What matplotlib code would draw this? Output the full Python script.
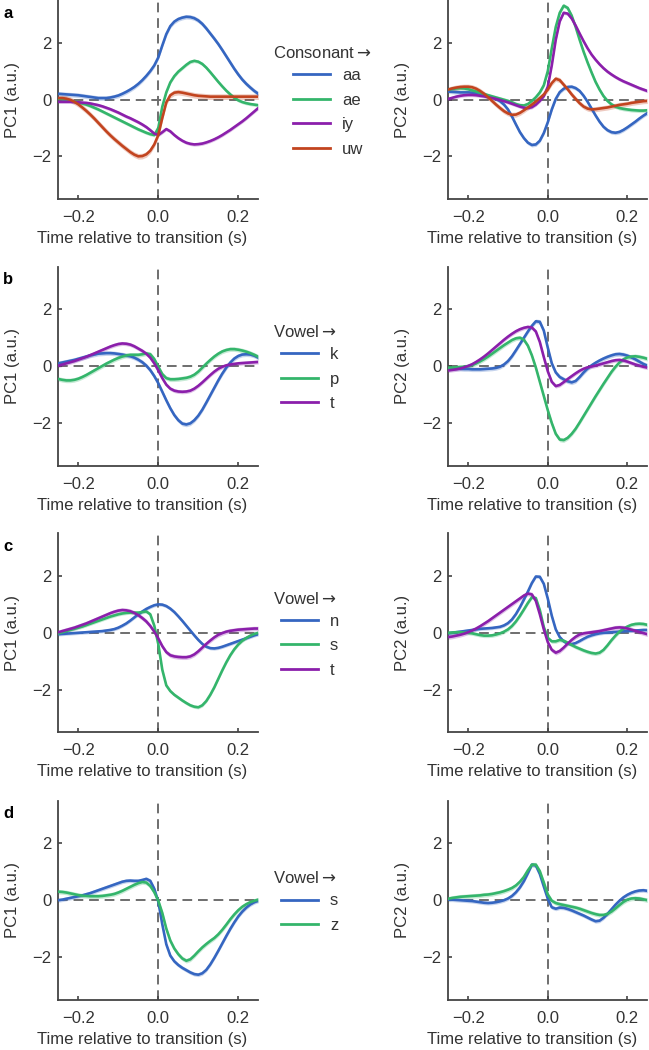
import numpy as np
import matplotlib
matplotlib.use("Agg")
import matplotlib.pyplot as plt
from matplotlib.lines import Line2D

plt.rcParams['font.family'] = ['Liberation Sans', 'DejaVu Sans']
plt.rcParams['mathtext.fontset'] = 'dejavusans'

# time grid (s)
time_s = np.round(np.linspace(-0.25, 0.25, 51), 2)

# ---------------- panel a (consonant -> vowel) ----------------
a_labels = ['aa', 'ae', 'iy', 'uw']
a_pc1_aa = [0.20,0.19,0.18,0.17,0.16,0.15,0.13,0.11,0.09,0.07,
            0.05,0.05,0.05,0.07,0.10,0.14,0.20,0.27,0.35,0.44,
            0.55,0.68,0.83,1.00,1.20,
            1.48,
            1.90,2.30,2.58,2.74,2.83,2.88,2.91,2.90,2.86,2.78,
            2.66,2.50,2.32,2.14,1.95,1.74,1.52,1.30,1.08,0.88,
            0.70,0.55,0.42,0.30,0.20]
a_pc1_ae = [0.02,0.00,-0.02,-0.04,-0.07,-0.10,-0.14,-0.18,-0.23,-0.29,
            -0.35,-0.42,-0.49,-0.56,-0.63,-0.70,-0.77,-0.84,-0.91,-0.98,
            -1.05,-1.11,-1.17,-1.22,-1.25,
            -1.00,
            -0.25,0.25,0.60,0.82,0.98,1.10,1.22,1.32,1.36,1.33,
            1.25,1.12,0.96,0.79,0.62,0.46,0.31,0.18,0.06,-0.03,
            -0.09,-0.13,-0.16,-0.18,-0.20]
a_pc1_iy = [-0.08,-0.08,-0.08,-0.08,-0.09,-0.10,-0.11,-0.12,-0.14,-0.17,
            -0.20,-0.24,-0.29,-0.34,-0.40,-0.46,-0.53,-0.60,-0.66,-0.73,
            -0.80,-0.88,-0.97,-1.08,-1.20,
            -1.25,
            -1.15,-1.04,-1.12,-1.25,-1.36,-1.45,-1.52,-1.56,-1.58,-1.57,
            -1.55,-1.51,-1.46,-1.40,-1.33,-1.25,-1.16,-1.07,-0.97,-0.87,
            -0.77,-0.66,-0.54,-0.42,-0.30]
a_pc1_uw = [0.05,0.05,0.03,-0.01,-0.08,-0.17,-0.28,-0.40,-0.53,-0.67,
            -0.82,-0.97,-1.12,-1.26,-1.39,-1.51,-1.63,-1.74,-1.85,-1.94,
            -2.00,-1.99,-1.93,-1.80,-1.58,
            -1.25,
            -0.65,-0.10,0.15,0.24,0.26,0.24,0.21,0.18,0.15,0.13,
            0.12,0.11,0.10,0.10,0.10,0.10,0.10,0.10,0.10,0.10,
            0.10,0.10,0.10,0.10,0.10]
a_pc2_aa = [0.28,0.27,0.26,0.25,0.25,0.25,0.24,0.22,0.20,0.17,
            0.13,0.08,0.02,-0.06,-0.18,-0.35,-0.60,-0.88,-1.15,-1.36,
            -1.52,-1.60,-1.58,-1.45,-1.18,
            -0.80,
            -0.35,0.02,0.26,0.38,0.44,0.45,0.40,0.30,0.13,-0.08,
            -0.32,-0.56,-0.78,-0.96,-1.08,-1.15,-1.17,-1.14,-1.07,-0.98,
            -0.88,-0.78,-0.67,-0.57,-0.48]
a_pc2_ae = [0.35,0.37,0.39,0.40,0.39,0.36,0.32,0.28,0.23,0.19,
            0.15,0.11,0.07,0.03,-0.01,-0.05,-0.10,-0.16,-0.20,-0.21,
            -0.16,-0.05,0.08,0.25,0.50,
            1.00,
            1.80,2.55,3.05,3.30,3.22,2.95,2.55,2.10,1.68,1.30,
            0.95,0.62,0.35,0.12,-0.05,-0.17,-0.25,-0.30,-0.33,-0.35,
            -0.37,-0.38,-0.39,-0.39,-0.38]
a_pc2_iy = [0.02,0.06,0.10,0.13,0.15,0.16,0.16,0.15,0.13,0.11,
            0.08,0.05,0.02,-0.02,-0.06,-0.10,-0.15,-0.20,-0.25,-0.29,
            -0.30,-0.27,-0.18,-0.05,0.12,
            0.45,
            1.20,2.10,2.75,3.05,3.02,2.85,2.60,2.32,2.05,1.80,
            1.58,1.40,1.24,1.10,0.98,0.88,0.79,0.71,0.64,0.58,
            0.52,0.46,0.40,0.35,0.30]
a_pc2_uw = [0.35,0.39,0.42,0.44,0.45,0.45,0.43,0.38,0.30,0.20,
            0.08,-0.05,-0.18,-0.30,-0.41,-0.49,-0.54,-0.53,-0.47,-0.38,
            -0.28,-0.18,-0.07,0.05,0.18,
            0.35,
            0.58,0.73,0.68,0.52,0.36,0.18,0.02,-0.13,-0.25,-0.32,
            -0.35,-0.34,-0.32,-0.30,-0.28,-0.25,-0.22,-0.19,-0.17,-0.15,
            -0.12,-0.10,-0.08,-0.06,-0.05]
a_sem1 = [0.08, 0.06, 0.06, 0.10]
a_sem2 = [0.07, 0.07, 0.06, 0.09]

# ---------------- panel b ----------------
b_labels = ['k', 'p', 't']
b_pc1_k = [0.10,0.13,0.16,0.19,0.22,0.26,0.30,0.34,0.38,0.41,
           0.44,0.45,0.46,0.46,0.45,0.43,0.41,0.38,0.35,0.30,
           0.23,0.14,0.02,-0.14,-0.35,
           -0.60,
           -0.90,-1.20,-1.48,-1.72,-1.90,-2.02,-2.05,-2.01,-1.90,-1.74,
           -1.53,-1.28,-1.02,-0.76,-0.50,-0.26,-0.05,0.13,0.27,0.36,
           0.41,0.42,0.41,0.37,0.30]
b_pc1_p = [-0.45,-0.48,-0.50,-0.50,-0.48,-0.44,-0.38,-0.31,-0.23,-0.15,
           -0.07,0.01,0.09,0.16,0.23,0.29,0.34,0.38,0.40,0.40,
           0.40,0.42,0.45,0.42,0.25,
           -0.02,
           -0.28,-0.42,-0.46,-0.46,-0.45,-0.43,-0.41,-0.37,-0.30,-0.19,
           -0.05,0.09,0.22,0.34,0.44,0.52,0.57,0.60,0.60,0.58,
           0.55,0.51,0.46,0.40,0.33]
b_pc1_t = [0.02,0.06,0.10,0.14,0.18,0.23,0.28,0.33,0.39,0.45,
           0.51,0.57,0.63,0.69,0.74,0.78,0.80,0.79,0.76,0.70,
           0.62,0.54,0.44,0.30,0.10,
           -0.15,
           -0.42,-0.65,-0.79,-0.86,-0.89,-0.90,-0.89,-0.86,-0.79,-0.69,
           -0.57,-0.44,-0.31,-0.19,-0.09,-0.02,0.03,0.06,0.08,0.10,
           0.11,0.12,0.13,0.14,0.15]
b_pc2_k = [-0.08,-0.08,-0.08,-0.09,-0.10,-0.10,-0.11,-0.11,-0.11,-0.10,
           -0.09,-0.08,-0.06,-0.02,0.06,0.18,0.35,0.56,0.78,1.00,
           1.22,1.42,1.58,1.56,1.25,
           0.65,
           0.10,-0.22,-0.38,-0.46,-0.53,-0.57,-0.52,-0.38,-0.22,-0.08,
           0.03,0.12,0.20,0.27,0.33,0.38,0.42,0.43,0.41,0.37,
           0.31,0.24,0.16,0.08,0.02]
b_pc2_p = [-0.05,-0.05,-0.04,-0.03,-0.02,0.00,0.04,0.10,0.17,0.25,
           0.34,0.44,0.54,0.64,0.74,0.83,0.92,0.98,1.00,0.93,
           0.72,0.38,-0.05,-0.55,-1.05,
           -1.55,
           -2.00,-2.38,-2.58,-2.60,-2.52,-2.38,-2.20,-1.98,-1.75,-1.52,
           -1.29,-1.06,-0.84,-0.62,-0.41,-0.20,-0.02,0.13,0.24,0.31,
           0.34,0.35,0.33,0.30,0.26]
b_pc2_t = [-0.15,-0.13,-0.11,-0.08,-0.04,0.01,0.07,0.15,0.24,0.34,
           0.45,0.57,0.69,0.81,0.93,1.04,1.14,1.23,1.30,1.35,
           1.38,1.36,1.22,0.85,0.32,
           -0.18,
           -0.55,-0.70,-0.66,-0.56,-0.45,-0.35,-0.25,-0.16,-0.09,-0.04,
           -0.01,0.02,0.06,0.10,0.14,0.18,0.21,0.22,0.20,0.16,
           0.11,0.06,0.02,-0.02,-0.05]
b_sem1 = [0.08, 0.08, 0.07]
b_sem2 = [0.08, 0.08, 0.07]

# ---------------- panel c ----------------
c_labels = ['n', 's', 't']
c_pc1_n = [-0.05,-0.04,-0.03,-0.02,-0.01,0.00,0.01,0.02,0.03,0.04,
           0.05,0.06,0.08,0.10,0.13,0.18,0.25,0.33,0.43,0.54,
           0.65,0.75,0.84,0.91,0.97,
           1.00,
           0.99,0.94,0.85,0.73,0.58,0.42,0.25,0.08,-0.09,-0.25,
           -0.39,-0.49,-0.54,-0.55,-0.53,-0.49,-0.44,-0.39,-0.34,-0.29,
           -0.24,-0.19,-0.14,-0.09,-0.05]
c_pc1_s = [-0.02,0.02,0.06,0.10,0.14,0.18,0.22,0.27,0.32,0.37,
           0.42,0.47,0.52,0.57,0.61,0.65,0.68,0.70,0.71,0.71,
           0.71,0.73,0.75,0.65,0.25,
           -0.40,
           -1.30,-1.85,-2.05,-2.18,-2.28,-2.38,-2.47,-2.55,-2.60,-2.62,
           -2.55,-2.40,-2.18,-1.92,-1.62,-1.32,-1.04,-0.79,-0.58,-0.41,
           -0.28,-0.18,-0.10,-0.04,0.00]
c_pc1_t = [0.02,0.06,0.10,0.14,0.18,0.23,0.28,0.33,0.39,0.45,
           0.51,0.57,0.63,0.69,0.74,0.78,0.80,0.79,0.76,0.70,
           0.62,0.52,0.40,0.24,0.04,
           -0.20,
           -0.47,-0.68,-0.79,-0.83,-0.85,-0.86,-0.86,-0.83,-0.76,-0.65,
           -0.52,-0.39,-0.27,-0.16,-0.07,-0.01,0.04,0.07,0.09,0.11,
           0.12,0.13,0.14,0.15,0.15]
c_pc2_n = [-0.02,0.00,0.02,0.04,0.06,0.08,0.10,0.12,0.14,0.15,
           0.16,0.17,0.19,0.21,0.26,0.34,0.47,0.66,0.90,1.17,
           1.45,1.75,1.98,1.97,1.72,
           1.20,
           0.60,0.12,-0.15,-0.30,-0.38,-0.40,-0.36,-0.29,-0.21,-0.14,
           -0.09,-0.05,-0.02,0.00,0.01,0.02,0.03,0.04,0.05,0.06,
           0.07,0.08,0.09,0.10,0.10]
c_pc2_s = [0.00,0.01,0.02,0.02,0.01,0.00,-0.02,-0.05,-0.08,-0.10,
           -0.10,-0.09,-0.06,-0.02,0.04,0.12,0.24,0.40,0.60,0.82,
           1.05,1.25,1.22,0.80,0.20,
           -0.18,
           -0.30,-0.30,-0.25,-0.28,-0.35,-0.43,-0.50,-0.56,-0.62,-0.67,
           -0.71,-0.73,-0.70,-0.60,-0.44,-0.26,-0.10,0.04,0.14,0.22,
           0.28,0.31,0.32,0.31,0.28]
c_pc2_t = [-0.15,-0.13,-0.10,-0.07,-0.03,0.02,0.08,0.15,0.23,0.32,
           0.41,0.51,0.61,0.71,0.81,0.91,1.01,1.11,1.21,1.31,
           1.38,1.35,1.12,0.65,0.12,
           -0.33,
           -0.60,-0.70,-0.64,-0.52,-0.38,-0.25,-0.14,-0.06,-0.02,0.00,
           0.02,0.04,0.06,0.09,0.12,0.15,0.18,0.19,0.18,0.15,
           0.11,0.07,0.03,-0.01,-0.05]
c_sem1 = [0.06, 0.06, 0.08]
c_sem2 = [0.06, 0.07, 0.08]

# ---------------- panel d ----------------
d_labels = ['s', 'z']
d_pc1_s = [0.00,0.02,0.05,0.08,0.11,0.14,0.17,0.21,0.25,0.30,
           0.35,0.40,0.45,0.50,0.55,0.60,0.65,0.68,0.69,0.68,
           0.68,0.71,0.75,0.68,0.40,
           -0.05,
           -0.85,-1.55,-1.95,-2.15,-2.28,-2.38,-2.46,-2.54,-2.60,-2.62,
           -2.57,-2.45,-2.26,-2.03,-1.78,-1.52,-1.26,-1.01,-0.78,-0.57,
           -0.40,-0.26,-0.15,-0.07,-0.02]
d_pc1_z = [0.30,0.29,0.27,0.24,0.21,0.18,0.16,0.15,0.14,0.14,
           0.14,0.15,0.17,0.19,0.22,0.27,0.33,0.40,0.47,0.54,
           0.60,0.64,0.62,0.50,0.28,
           -0.02,
           -0.45,-1.00,-1.42,-1.70,-1.90,-2.05,-2.13,-2.08,-1.95,-1.80,
           -1.66,-1.54,-1.43,-1.33,-1.20,-1.04,-0.86,-0.67,-0.50,-0.35,
           -0.23,-0.14,-0.07,-0.02,0.02]
d_pc2_s = [0.02,0.02,0.01,0.00,-0.01,-0.02,-0.03,-0.05,-0.07,-0.09,
           -0.10,-0.09,-0.07,-0.04,0.00,0.06,0.15,0.28,0.45,0.67,
           0.95,1.25,1.22,0.92,0.48,
           0.05,
           -0.25,-0.30,-0.26,-0.27,-0.31,-0.36,-0.42,-0.48,-0.54,-0.61,
           -0.68,-0.74,-0.72,-0.62,-0.48,-0.32,-0.16,-0.02,0.10,0.19,
           0.26,0.31,0.34,0.35,0.33]
d_pc2_z = [0.05,0.08,0.10,0.12,0.13,0.14,0.15,0.16,0.17,0.19,
           0.20,0.22,0.25,0.28,0.32,0.37,0.43,0.52,0.65,0.82,
           1.05,1.25,1.25,1.02,0.62,
           0.20,
           -0.02,-0.10,-0.14,-0.17,-0.20,-0.23,-0.26,-0.30,-0.35,-0.40,
           -0.45,-0.49,-0.52,-0.52,-0.48,-0.40,-0.29,-0.17,-0.06,0.02,
           0.06,0.07,0.06,0.03,0.00]
d_sem1 = [0.07, 0.08]
d_sem2 = [0.07, 0.08]

legend_titles = ['Consonant$\\rightarrow$', 'Vowel$\\rightarrow$',
                 'Vowel$\\rightarrow$', 'Vowel$\\rightarrow$']
panel_letters = ['a', 'b', 'c', 'd']
x_ticks = [-0.2, 0.0, 0.2]
y_ticks = [-2, 0, 2]

palette = ['#3566c1', '#34b56b', '#8b1fab', '#c2441f']

rows = [
    (a_labels, [a_pc1_aa, a_pc1_ae, a_pc1_iy, a_pc1_uw],
     [a_pc2_aa, a_pc2_ae, a_pc2_iy, a_pc2_uw], a_sem1, a_sem2),
    (b_labels, [b_pc1_k, b_pc1_p, b_pc1_t], [b_pc2_k, b_pc2_p, b_pc2_t], b_sem1, b_sem2),
    (c_labels, [c_pc1_n, c_pc1_s, c_pc1_t], [c_pc2_n, c_pc2_s, c_pc2_t], c_sem1, c_sem2),
    (d_labels, [d_pc1_s, d_pc1_z], [d_pc2_s, d_pc2_z], d_sem1, d_sem2),
]

W, H = 649, 1050
fig = plt.figure(figsize=(W / 100, H / 100), dpi=100)

spine_col = '#444444'
text_col = '#333333'
row_tops = [0, 266.7, 533.3, 800.7]
ax_h = 199
left_x, left_w = 58.3, 200
right_x, right_w = 448.3, 199
legend_anchor_x = [285, 273, 273, 273]


def style_axis(ax, ylabel):
    ax.set_xlim(-0.25, 0.25)
    ax.set_ylim(-3.5, 3.5)
    ax.set_xticks(x_ticks)
    ax.set_xticklabels([f'{v:.1f}'.replace('-', '\u2212') for v in x_ticks])
    ax.set_yticks(y_ticks)
    ax.set_yticklabels([f'{v:d}'.replace('-', '\u2212') for v in y_ticks])
    for s in ['top', 'right']:
        ax.spines[s].set_visible(False)
    for s in ['left', 'bottom']:
        ax.spines[s].set_color(spine_col)
        ax.spines[s].set_linewidth(1.3)
    ax.tick_params(direction='in', length=3, width=1.2, color=spine_col,
                   labelsize=12, labelcolor=text_col, pad=5)
    ax.tick_params(axis='x', pad=8)
    ax.axhline(0, color='#6e6e6e', lw=1.4, ls=(0, (5, 3)), zorder=1)
    ax.axvline(0, color='#6e6e6e', lw=1.4, ls=(0, (5, 3)), zorder=1)
    ax.set_xlabel('Time relative to transition (s)', fontsize=12, color=text_col, labelpad=5)
    ax.xaxis.set_label_coords(0.42, -0.16)
    ax.set_ylabel(ylabel, fontsize=12, color=text_col, labelpad=9)
    ax.set_facecolor('none')


for r, (labels, pc1, pc2, sem1, sem2) in enumerate(rows):
    top = row_tops[r]
    bottom = 1 - (top + ax_h) / H
    ax1 = fig.add_axes([left_x / W, bottom, left_w / W, ax_h / H])
    ax2 = fig.add_axes([right_x / W, bottom, right_w / W, ax_h / H])
    style_axis(ax1, 'PC1 (a.u.)')
    style_axis(ax2, 'PC2 (a.u.)')
    handles = []
    for k, lab in enumerate(labels):
        col = palette[k]
        y1 = np.array(pc1[k])
        y2 = np.array(pc2[k])
        ax1.fill_between(time_s, y1 - sem1[k], y1 + sem1[k], color=col, alpha=0.28, lw=0, zorder=2)
        ax1.plot(time_s, y1, color=col, lw=1.9, zorder=3)
        ax2.fill_between(time_s, y2 - sem2[k], y2 + sem2[k], color=col, alpha=0.28, lw=0, zorder=2)
        ax2.plot(time_s, y2, color=col, lw=1.9, zorder=3)
        handles.append(Line2D([], [], color=col, lw=2.0))
    n = len(labels)
    first_y = top + 112.5 - (n - 1) * 24.5 / 2
    yc = 1 - (top + 112.5) / H
    leg = fig.legend(handles, labels, loc='center left',
                     bbox_to_anchor=(legend_anchor_x[r] / W, yc), bbox_transform=fig.transFigure,
                     frameon=False, fontsize=12, borderpad=0.0,
                     handlelength=2.2, handletextpad=0.72, labelspacing=0.57)
    for t in leg.get_texts():
        t.set_color(text_col)
    fig.text(273 / W, 1 - (first_y - 22.5) / H, legend_titles[r], fontsize=12,
             ha='left', va='center', color=text_col)
    fig.text(8 / W, 1 - (top + 13) / H, panel_letters[r], fontsize=12,
             fontweight='bold', ha='center', va='center', color='black')

fig.savefig('out.png', dpi=100)
